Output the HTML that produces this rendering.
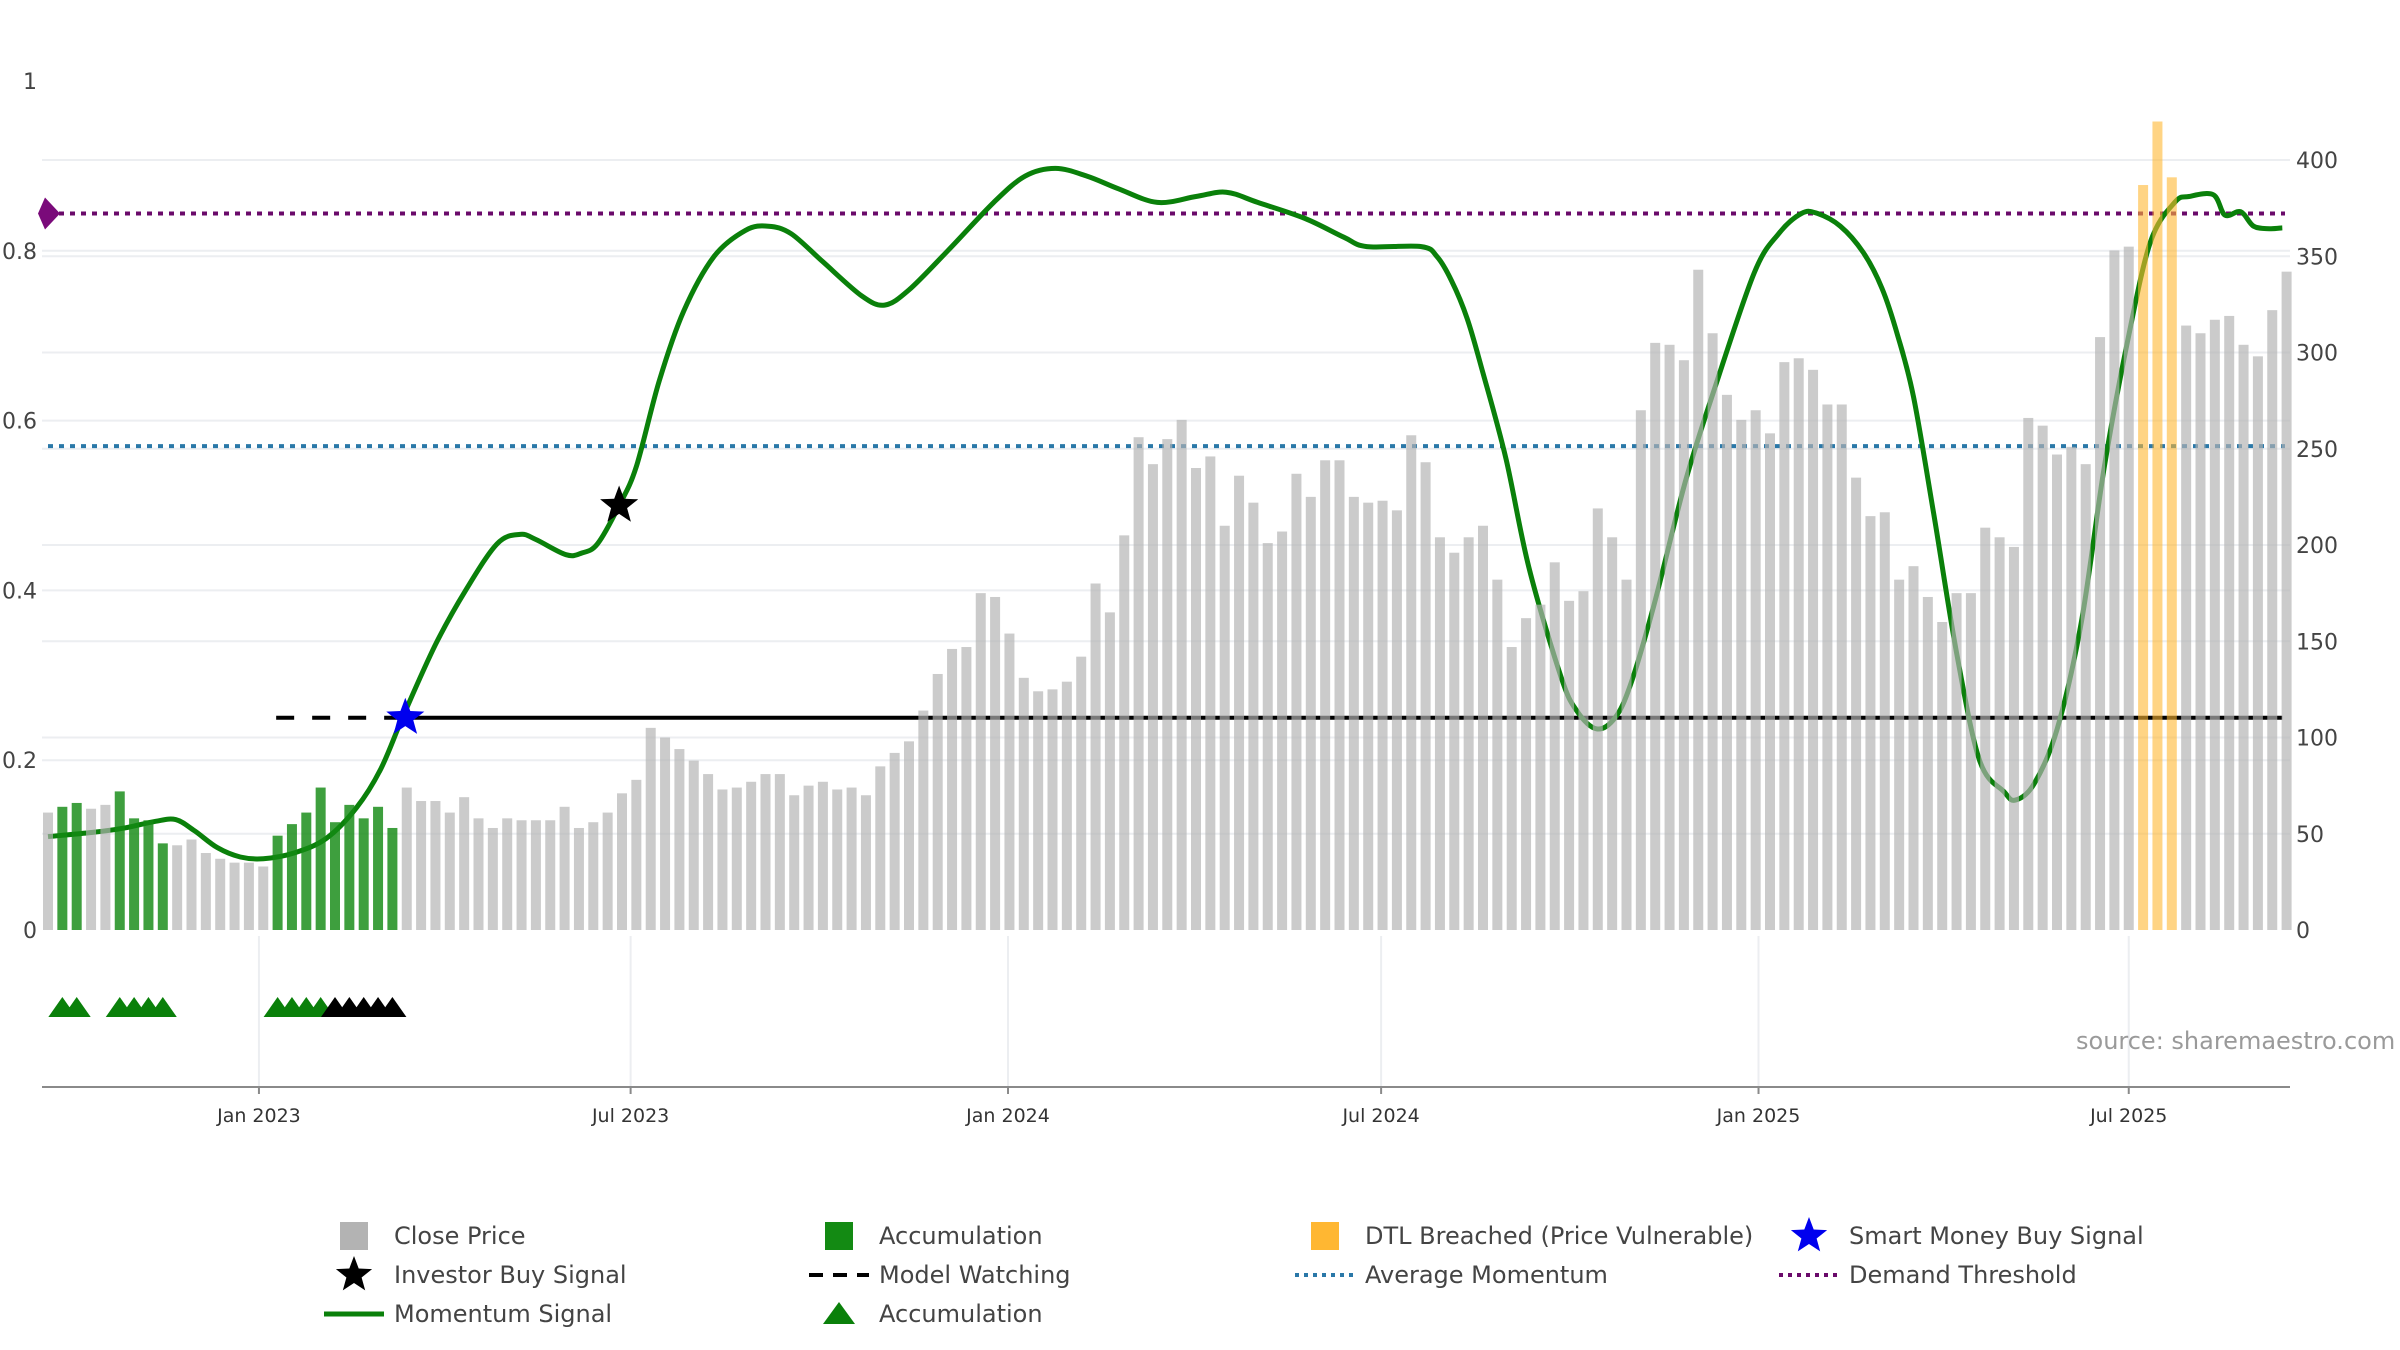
<!DOCTYPE html>
<html><head><meta charset="utf-8"><style>
html,body{margin:0;padding:0;background:#fff;}
svg{display:block;font-family:"DejaVu Sans","Liberation Sans",sans-serif;}
</style></head><body>
<svg id="chart" width="2400" height="1350" viewBox="0 0 2400 1350" xmlns="http://www.w3.org/2000/svg">
<g id="grid"></g>
<g id="lines"></g>
<g id="bars"></g>
<g id="marks"></g>
<g id="axes"></g>
<text x="2076" y="1049" font-size="24" fill="#9a9a9a">source: sharemaestro.com</text>
<g id="legend" font-size="24" fill="#444"></g>
</svg>
<script>
const closePrices=[61,64,66,63,65,72,58,57,45,44,47,40,37,35,35,33,49,55,61,74,56,65,58,64,53,74,67,67,61,69,58,53,58,57,57,57,64,53,56,61,71,78,105,100,94,88,81,73,74,77,81,81,70,75,77,73,74,70,85,92,98,114,133,146,147,175,173,154,131,124,125,129,142,180,165,205,256,242,255,265,240,246,210,236,222,201,207,237,225,244,244,225,222,223,218,257,243,204,196,204,210,182,147,162,169,191,171,176,219,204,182,270,305,304,296,343,310,278,265,270,258,295,297,291,273,273,235,215,217,182,189,173,160,175,175,209,204,199,266,262,247,251,242,308,353,355,387,420,391,314,310,317,319,304,298,322,342];
const accumulationWeeks=[1,2,5,6,7,8,16,17,18,19,20,21,22,23,24];
const dtlBreachedWeeks=[146,147,148];
const momentumWeeks=[0,3.1,5.3,7.5,8.9,10.2,11.8,13.4,15.0,17.2,19.4,21.5,23.2,24.8,27.0,29.1,31.3,32.9,34.0,36.1,37.2,38.3,39.8,41.0,42.6,44.3,46.4,48.6,50.2,51.8,54.0,56.7,58.3,60.0,62.7,65.9,68.1,70.2,72.4,74.6,77.3,80.0,82.1,84.3,87.6,90.3,91.9,95.7,96.8,97.8,98.9,100.0,101.6,103.2,105.4,106.5,107.9,109.2,110.3,111.9,114.1,116.2,118.9,120.6,122.2,123.3,124.9,126.5,127.8,128.9,130.0,131.4,133.0,134.6,136.3,137.1,138.4,140.0,141.7,143.3,144.9,146.5,148.2,149.2,150.9,151.7,152.8,153.7,154.8,155.7];
const momentumValues=[0.110,0.115,0.12,0.128,0.13,0.117,0.097,0.086,0.084,0.091,0.108,0.144,0.19,0.254,0.336,0.40,0.455,0.466,0.46,0.442,0.444,0.455,0.50,0.546,0.647,0.729,0.793,0.824,0.829,0.82,0.787,0.747,0.736,0.754,0.80,0.857,0.888,0.897,0.888,0.873,0.857,0.864,0.869,0.857,0.838,0.816,0.805,0.805,0.793,0.765,0.72,0.656,0.555,0.427,0.30,0.259,0.237,0.25,0.29,0.382,0.528,0.641,0.774,0.82,0.844,0.844,0.829,0.798,0.756,0.70,0.628,0.491,0.327,0.20,0.163,0.153,0.172,0.236,0.363,0.546,0.692,0.81,0.857,0.864,0.866,0.842,0.846,0.829,0.826,0.827];
const demandThreshold=0.844;
const averageMomentum=0.570;
const modelWatchingLevel=0.25;
const modelWatchingStart=15.9, smartMoneyWeek=24.9, investorWeek=39.8, investorLevel=0.50;
const greenTriWeeks=[1,2,5,6,7,8,16,17,18,19];
const blackTriWeeks=[20,21,22,23,24];
const leftTicks=[0,0.2,0.4,0.6,0.8,1];
const leftTickLabels=["0","0.2","0.4","0.6","0.8","1"];
const rightTicks=[0,50,100,150,200,250,300,350,400];
const dateTickWeeks=[14.7,40.6,66.9,92.9,119.2,145.0];
const dateTickLabels=["Jan 2023","Jul 2023","Jan 2024","Jul 2024","Jan 2025","Jul 2025"];

const NS="http://www.w3.org/2000/svg";
const xW=i=>48+14.35*i;
const yL=v=>930-v*849;
const yR=v=>930-v*1.925;
function mk(parent,tag,attrs){const e=document.createElementNS(NS,tag);for(const k in attrs)e.setAttribute(k,attrs[k]);parent.appendChild(e);return e;}
const G=id=>document.getElementById(id);

leftTicks.forEach(t=>{if(t===0||t===1)return;const l=mk(G('grid'),'line',{x1:42,x2:2290,y1:yL(t),y2:yL(t),stroke:'#eceef1','stroke-width':2});

});
rightTicks.forEach(t=>{if(t===0)return;const l=mk(G('grid'),'line',{x1:42,x2:2290,y1:yR(t),y2:yR(t),stroke:'#eceef1','stroke-width':2});

});
dateTickWeeks.forEach(w=>{const l=mk(G('grid'),'line',{x1:xW(w),x2:xW(w),y1:936,y2:1087,stroke:'#eceef1','stroke-width':2});

});

let hl=mk(G('lines'),'line',{x1:48,x2:2285,y1:yL(demandThreshold),y2:yL(demandThreshold),stroke:'#6a0a6a','stroke-width':4,'stroke-dasharray':'5 6'});


hl=mk(G('lines'),'line',{x1:48,x2:2285,y1:yL(averageMomentum),y2:yL(averageMomentum),stroke:'#2a78a8','stroke-width':4,'stroke-dasharray':'5 6'});


hl=mk(G('lines'),'line',{x1:xW(modelWatchingStart),x2:xW(smartMoneyWeek),y1:yL(modelWatchingLevel),y2:yL(modelWatchingLevel),stroke:'#000','stroke-width':4,'stroke-dasharray':'18 18'});


hl=mk(G('lines'),'line',{x1:xW(smartMoneyWeek),x2:xW(155.7),y1:yL(modelWatchingLevel),y2:yL(modelWatchingLevel),stroke:'#000','stroke-width':4});



const pts=momentumWeeks.map((w,i)=>[xW(w),yL(momentumValues[i])]);
let d='M'+pts[0][0]+','+pts[0][1];
for(let i=0;i<pts.length-1;i++){const p0=pts[Math.max(0,i-1)],p1=pts[i],p2=pts[i+1],p3=pts[Math.min(pts.length-1,i+2)];
const c1=[p1[0]+(p2[0]-p0[0])/6,p1[1]+(p2[1]-p0[1])/6],c2=[p2[0]-(p3[0]-p1[0])/6,p2[1]-(p3[1]-p1[1])/6];
d+=' C'+c1[0].toFixed(1)+','+c1[1].toFixed(1)+' '+c2[0].toFixed(1)+','+c2[1].toFixed(1)+' '+p2[0].toFixed(1)+','+p2[1].toFixed(1);}
const mp=mk(G('lines'),'path',{d:d,fill:'none',stroke:'#0a800a','stroke-width':5,'stroke-linejoin':'round'});



closePrices.forEach((v,i)=>{let fill='#b3b3b3',op=0.68,name='close-price-bar';
if(accumulationWeeks.includes(i)){fill='#138a13';op=0.82;name='accumulation-bar';}
if(dtlBreachedWeeks.includes(i)){fill='#ffb732';op=0.6;name='dtl-breached-bar';}
const r=mk(G('bars'),'rect',{x:xW(i)-5,y:yR(v),width:10,height:930-yR(v),fill:fill,'fill-opacity':op});

});

function star(cx,cy,R,fill){let p=[];for(let k=0;k<10;k++){const r=k%2?R*0.42:R,a=-Math.PI/2+k*Math.PI/5;p.push((cx+r*Math.cos(a)).toFixed(1)+','+(cy+r*Math.sin(a)).toFixed(1));}return mk(G('marks'),'polygon',{points:p.join(' '),fill:fill});}
let s=star(xW(smartMoneyWeek),yL(modelWatchingLevel),20,'#0000ee');


s=star(xW(investorWeek),yL(investorLevel),20,'#000');


const dm=mk(G('marks'),'polygon',{points:[[xW(0)-10,yL(demandThreshold)],[xW(0)-3,yL(demandThreshold)-16],[xW(0)+12,yL(demandThreshold)],[xW(0)-3,yL(demandThreshold)+16]].map(p=>p.join(',')).join(' '),fill:'#7a0a7a'});


function tri(w,fill,name){const x=xW(w);const t=mk(G('marks'),'polygon',{points:`${x-14},1017 ${x},997 ${x+14},1017`,fill:fill});

}
greenTriWeeks.forEach(w=>tri(w,'#0a800a','accumulation-triangle'));
blackTriWeeks.forEach(w=>tri(w,'#000','watching-triangle'));

const ax=G('axes');
let al=mk(ax,'line',{x1:42,x2:2290,y1:1087,y2:1087,stroke:'#8a8a8a','stroke-width':2});


leftTicks.forEach((t,i)=>{const e=mk(ax,'text',{x:37,y:yL(t)+8,'text-anchor':'end','font-size':22,fill:'#444'});e.textContent=leftTickLabels[i];

});
rightTicks.forEach(t=>{const e=mk(ax,'text',{x:2296,y:yR(t)+8,'font-size':22,fill:'#444'});e.textContent=String(t);

});
dateTickWeeks.forEach((w,i)=>{const tk=mk(ax,'line',{x1:xW(w),x2:xW(w),y1:1087,y2:1094,stroke:'#8a8a8a','stroke-width':2});


const e=mk(ax,'text',{x:xW(w),y:1122,'text-anchor':'middle','font-size':19,fill:'#333'});e.textContent=dateTickLabels[i];

});

const lg=G('legend');
const cols=[354,839,1325,1809],rows=[1236,1275,1314];
const items=[
 [0,0,'Close Price','sq','#b3b3b3'],[1,0,'Accumulation','sq','#138a13'],[2,0,'DTL Breached (Price Vulnerable)','sq','#ffb732'],[3,0,'Smart Money Buy Signal','star','#0000ee'],
 [0,1,'Investor Buy Signal','star','#000'],[1,1,'Model Watching','dash','#000'],[2,1,'Average Momentum','dot','#2a78a8'],[3,1,'Demand Threshold','dot','#6a0a6a'],
 [0,2,'Momentum Signal','line','#0a800a'],[1,2,'Accumulation','tri','#0a800a']];
items.forEach(it=>{const cx=cols[it[0]],cy=rows[it[1]];const g=mk(lg,'g',{});


const k=it[3],c=it[4];
if(k==='sq')mk(g,'rect',{x:cx-14,y:cy-14,width:28,height:28,fill:c});
else if(k==='star'){let p=[];for(let j=0;j<10;j++){const r=j%2?8:19,a=-Math.PI/2+j*Math.PI/5;p.push((cx+r*Math.cos(a)).toFixed(1)+','+(cy+r*Math.sin(a)).toFixed(1));}mk(g,'polygon',{points:p.join(' '),fill:c});}
else if(k==='dash')mk(g,'line',{x1:cx-30,x2:cx+30,y1:cy,y2:cy,stroke:c,'stroke-width':4,'stroke-dasharray':'14 10'});
else if(k==='dot')mk(g,'line',{x1:cx-30,x2:cx+30,y1:cy,y2:cy,stroke:c,'stroke-width':4,'stroke-dasharray':'4 5'});
else if(k==='line')mk(g,'line',{x1:cx-30,x2:cx+30,y1:cy,y2:cy,stroke:c,'stroke-width':5});
else if(k==='tri')mk(g,'polygon',{points:`${cx-16},${cy+10} ${cx},${cy-12} ${cx+16},${cy+10}`,fill:c});
const t=mk(g,'text',{x:cx+40,y:cy+8,'font-size':24,fill:'#444'});t.textContent=it[2];});
</script>
</body></html>
